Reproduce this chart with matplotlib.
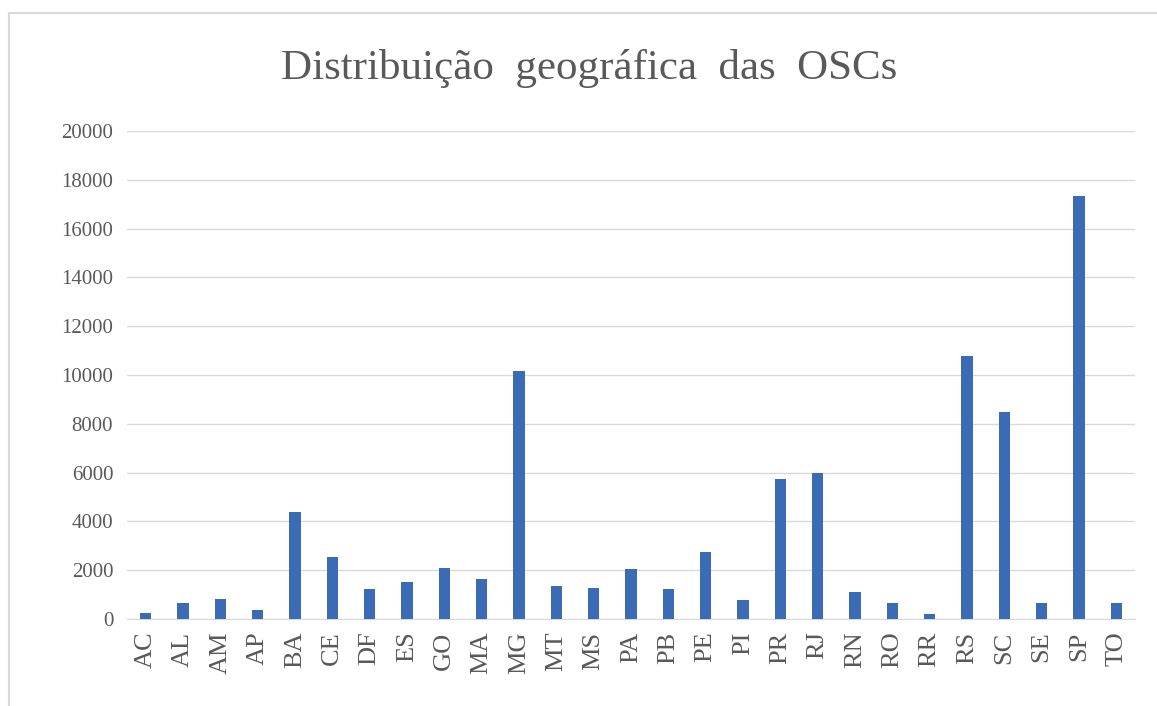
import matplotlib.pyplot as plt
from matplotlib.lines import Line2D

# UFs e numero de OSCs
estados = ["AC", "AL", "AM", "AP", "BA", "CE", "DF", "ES", "GO", "MA", "MG", "MT", "MS",
           "PA", "PB", "PE", "PI", "PR", "RJ", "RN", "RO", "RR", "RS", "SC", "SE", "SP", "TO"]
num_oscs = [250, 650, 820, 380, 4400, 2550, 1220, 1530, 2100, 1660, 10150, 1340, 1280,
            2060, 1220, 2750, 780, 5750, 6000, 1100, 650, 200, 10770, 8480, 650, 17350, 650]
y_ticks = list(range(0, 20001, 2000))

plt.rcParams['font.family'] = ['Liberation Serif', 'DejaVu Serif']
texto = '#595959'

fig = plt.figure(figsize=(11.57, 7.06), dpi=100)
ax = fig.add_axes([0.1098, 0.1232, 0.8712, 0.6912])

ax.bar(estados, num_oscs, width=0.3, color='#3A6BB4', zorder=3)

ax.set_ylim(0, 20000)
ax.set_xlim(-0.5, len(estados) - 0.5)
ax.set_yticks(y_ticks)
ax.yaxis.grid(True, color='#D9D9D9', linewidth=1, zorder=0)
for s in ['top', 'right', 'left']:
    ax.spines[s].set_visible(False)
ax.spines['bottom'].set_color('#D9D9D9')
ax.tick_params(axis='both', length=0, colors=texto)
ax.tick_params(axis='y', pad=10, labelsize=15)
ax.tick_params(axis='x', pad=9, labelsize=19)
plt.setp(ax.get_xticklabels(), rotation=90)

fig.suptitle('Distribuição  geográfica  das  OSCs', x=0.509, y=0.93,
             fontsize=31, color=texto)

# moldura do grafico (so esquerda e topo visiveis)
fig.add_artist(Line2D([0.0075, 0.0075], [0.0, 0.981], color='#D9D9D9', lw=1.5))
fig.add_artist(Line2D([0.0075, 1.0], [0.981, 0.981], color='#D9D9D9', lw=1.5))

fig.savefig('out.png', dpi=100)
